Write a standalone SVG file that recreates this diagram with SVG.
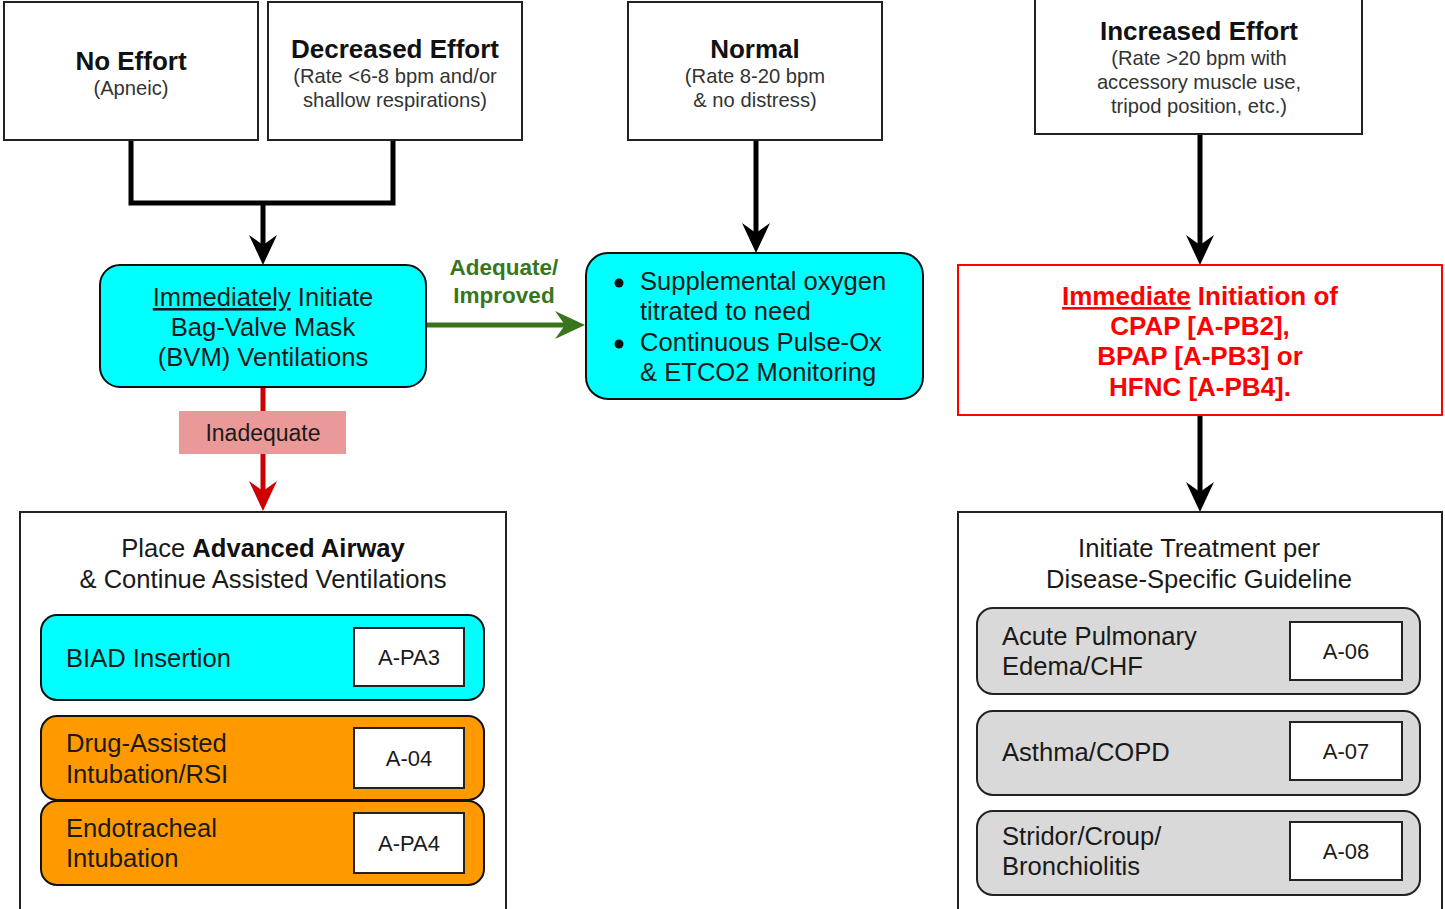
<svg xmlns="http://www.w3.org/2000/svg" width="1445" height="909" viewBox="0 0 1445 909">
<style>
text{font-family:"Liberation Sans",Arial,sans-serif;fill:#1a1a1a;text-anchor:middle}
.t{font-size:26px;font-weight:bold;fill:#111}
.s{font-size:20.2px;fill:#333}
.b{font-size:25.6px}
.l{text-anchor:start}
.ref{font-size:22px}
.box{fill:#fff;stroke:#222;stroke-width:2}
.cy{fill:#00ffff;stroke:#111;stroke-width:2}
.or{fill:#ff9900;stroke:#111;stroke-width:2}
.gr{fill:#d9d9d9;stroke:#222;stroke-width:2}
.k{stroke:#000;stroke-width:5;fill:none}
</style>
<defs>
<marker id="ak" markerUnits="userSpaceOnUse" viewBox="-1 -15 32 30" markerWidth="32" markerHeight="30" refX="10" refY="0" orient="auto"><path d="M0,-14 L30,0 L0,14 L10,0 Z" fill="#000"/></marker>
<marker id="ag" markerUnits="userSpaceOnUse" viewBox="-1 -15 32 30" markerWidth="32" markerHeight="30" refX="10" refY="0" orient="auto"><path d="M0,-14 L30,0 L0,14 L10,0 Z" fill="#38761d"/></marker>
<marker id="ar" markerUnits="userSpaceOnUse" viewBox="-1 -15 32 30" markerWidth="32" markerHeight="30" refX="10" refY="0" orient="auto"><path d="M0,-14 L30,0 L0,14 L10,0 Z" fill="#cc0000"/></marker>
</defs>
<rect width="1445" height="909" fill="#fff"/>

<g id="connectors">
<path class="k" d="M131,140 V203 H393 V140"/>
<line class="k" x1="263" y1="203" x2="263" y2="245" marker-end="url(#ak)"/>
<line class="k" x1="756" y1="140" x2="756" y2="233" marker-end="url(#ak)"/>
<line class="k" x1="1200" y1="134" x2="1200" y2="245" marker-end="url(#ak)"/>
<line class="k" x1="1200" y1="415" x2="1200" y2="492" marker-end="url(#ak)"/>
<line x1="426" y1="325" x2="565" y2="325" stroke="#38761d" stroke-width="5" marker-end="url(#ag)"/>
<text x="504" y="275" style="font-size:22.5px;font-weight:bold;fill:#38761d">Adequate/</text>
<text x="504" y="303" style="font-size:22.5px;font-weight:bold;fill:#38761d">Improved</text>
<line x1="263" y1="387" x2="263" y2="491" stroke="#cc0000" stroke-width="5" marker-end="url(#ar)"/>
<rect x="179" y="411" width="167" height="43" fill="#ea9999"/>
<text x="263" y="441" style="font-size:23px">Inadequate</text>
</g>

<g id="no-effort">
<rect class="box" x="4" y="2" width="254" height="138"/>
<text class="t" x="131" y="70">No Effort</text>
<text class="s" x="131" y="95">(Apneic)</text>
</g>

<g id="decreased-effort">
<rect class="box" x="268" y="2" width="254" height="138"/>
<text class="t" x="395" y="58">Decreased Effort</text>
<text class="s" x="395" y="83">(Rate &lt;6-8 bpm and/or</text>
<text class="s" x="395" y="107">shallow respirations)</text>
</g>

<g id="normal">
<rect class="box" x="628" y="2" width="254" height="138"/>
<text class="t" x="755" y="58">Normal</text>
<text class="s" x="755" y="83">(Rate 8-20 bpm</text>
<text class="s" x="755" y="107">&amp; no distress)</text>
</g>

<g id="increased-effort">
<rect class="box" x="1035" y="-2" width="327" height="136"/>
<text class="t" x="1199" y="40">Increased Effort</text>
<text class="s" x="1199" y="65">(Rate &gt;20 bpm with</text>
<text class="s" x="1199" y="89">accessory muscle use,</text>
<text class="s" x="1199" y="113">tripod position, etc.)</text>
</g>

<g id="bvm">
<rect class="cy" x="100" y="265" width="326" height="122" rx="20"/>
<text class="b" x="263" y="306"><tspan text-decoration="underline">Immediately</tspan> Initiate</text>
<text class="b" x="263" y="336">Bag-Valve Mask</text>
<text class="b" x="263" y="366">(BVM) Ventilations</text>
</g>

<g id="supplemental">
<rect class="cy" x="586" y="253" width="337" height="146" rx="22"/>
<circle cx="619" cy="283" r="4.5" fill="#111"/>
<text class="b l" x="640" y="290">Supplemental oxygen</text>
<text class="b l" x="640" y="320">titrated to need</text>
<circle cx="619" cy="344" r="4.5" fill="#111"/>
<text class="b l" x="640" y="351">Continuous Pulse-Ox</text>
<text class="b l" x="640" y="381">&amp; ETCO2 Monitoring</text>
</g>

<g id="cpap">
<rect x="958" y="265" width="484" height="150" fill="#fff" stroke="#ff0000" stroke-width="2"/>
<text class="t" x="1200" y="305" style="fill:#ff0000"><tspan text-decoration="underline">Immediate</tspan> Initiation of</text>
<text class="t" x="1200" y="335" style="fill:#ff0000">CPAP [A-PB2],</text>
<text class="t" x="1200" y="365" style="fill:#ff0000">BPAP [A-PB3] or</text>
<text class="t" x="1200" y="396" style="fill:#ff0000">HFNC [A-PB4].</text>
</g>

<g id="advanced-airway">
<rect class="box" x="20" y="512" width="486" height="402"/>
<text class="b" x="263" y="557">Place <tspan font-weight="bold" fill="#111">Advanced Airway</tspan></text>
<text class="b" x="263" y="588">&amp; Continue Assisted Ventilations</text>
</g>

<g id="biad">
<rect class="cy" x="41" y="615" width="443" height="85" rx="16"/>
<text class="b l" x="66" y="667">BIAD Insertion</text>
<rect class="box" x="354" y="628" width="110" height="58"/>
<text class="ref" x="409" y="665">A-PA3</text>
</g>

<g id="drug-assisted">
<rect class="or" x="41" y="716" width="443" height="84" rx="16"/>
<text class="b l" x="66" y="752">Drug-Assisted</text>
<text class="b l" x="66" y="783">Intubation/RSI</text>
<rect class="box" x="354" y="728" width="110" height="60"/>
<text class="ref" x="409" y="766">A-04</text>
</g>

<g id="endotracheal">
<rect class="or" x="41" y="801" width="443" height="84" rx="16"/>
<text class="b l" x="66" y="837">Endotracheal</text>
<text class="b l" x="66" y="867">Intubation</text>
<rect class="box" x="354" y="813" width="110" height="60"/>
<text class="ref" x="409" y="851">A-PA4</text>
</g>

<g id="disease-specific">
<rect class="box" x="958" y="512" width="484" height="402"/>
<text class="b" x="1199" y="557">Initiate Treatment per</text>
<text class="b" x="1199" y="588">Disease-Specific Guideline</text>
</g>

<g id="chf">
<rect class="gr" x="977" y="608" width="443" height="86" rx="16"/>
<text class="b l" x="1002" y="645">Acute Pulmonary</text>
<text class="b l" x="1002" y="675">Edema/CHF</text>
<rect class="box" x="1290" y="622" width="112" height="58"/>
<text class="ref" x="1346" y="659">A-06</text>
</g>

<g id="asthma">
<rect class="gr" x="977" y="711" width="443" height="84" rx="16"/>
<text class="b l" x="1002" y="761">Asthma/COPD</text>
<rect class="box" x="1290" y="722" width="112" height="58"/>
<text class="ref" x="1346" y="759">A-07</text>
</g>

<g id="stridor">
<rect class="gr" x="977" y="811" width="443" height="84" rx="16"/>
<text class="b l" x="1002" y="845">Stridor/Croup/</text>
<text class="b l" x="1002" y="875">Bronchiolitis</text>
<rect class="box" x="1290" y="822" width="112" height="58"/>
<text class="ref" x="1346" y="859">A-08</text>
</g>
</svg>
